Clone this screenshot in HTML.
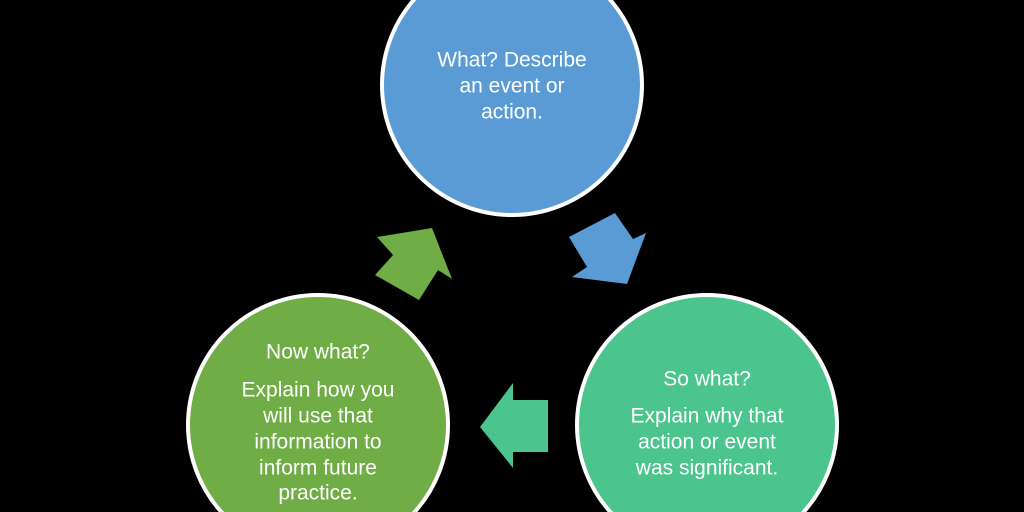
<!DOCTYPE html>
<html><head><meta charset="utf-8"><style>
html,body{margin:0;padding:0;background:#000;width:1024px;height:512px;overflow:hidden;}
svg{display:block;overflow:hidden}
text{font-family:"Liberation Sans",sans-serif;font-size:21px;fill:#fff;text-anchor:middle;dominant-baseline:middle}
</style></head><body>
<svg width="1024" height="512" viewBox="0 0 1024 512">
<rect width="1024" height="512" fill="#000"/>
<circle cx="512" cy="85" r="130" fill="#5b9bd5" stroke="#fff" stroke-width="4"/>
<circle cx="707" cy="425" r="130" fill="#4bc58d" stroke="#fff" stroke-width="4"/>
<circle cx="318" cy="425" r="130" fill="#70ad47" stroke="#fff" stroke-width="4"/>
<polygon points="569,237 615,213 633,239 646,233 627,284 572,277 587,267" fill="#5b9bd5"/>
<polygon points="480,427 513,383 513,400 548,400 548,452 513,452 513,468" fill="#4bc58d"/>
<polygon points="377,237 432,228 452,279 438,270 419,300 375,275 393,255" fill="#70ad47"/>
<text x="512" y="61">What? Describe</text>
<text x="512" y="87">an event or</text>
<text x="512" y="113">action.</text>
<text x="707" y="380">So what?</text>
<text x="707" y="417">Explain why that</text>
<text x="707" y="443">action or event</text>
<text x="707" y="469">was significant.</text>
<text x="318" y="353">Now what?</text>
<text x="318" y="391">Explain how you</text>
<text x="318" y="417">will use that</text>
<text x="318" y="443">information to</text>
<text x="318" y="469">inform future</text>
<text x="318" y="494">practice.</text>
</svg>
</body></html>
